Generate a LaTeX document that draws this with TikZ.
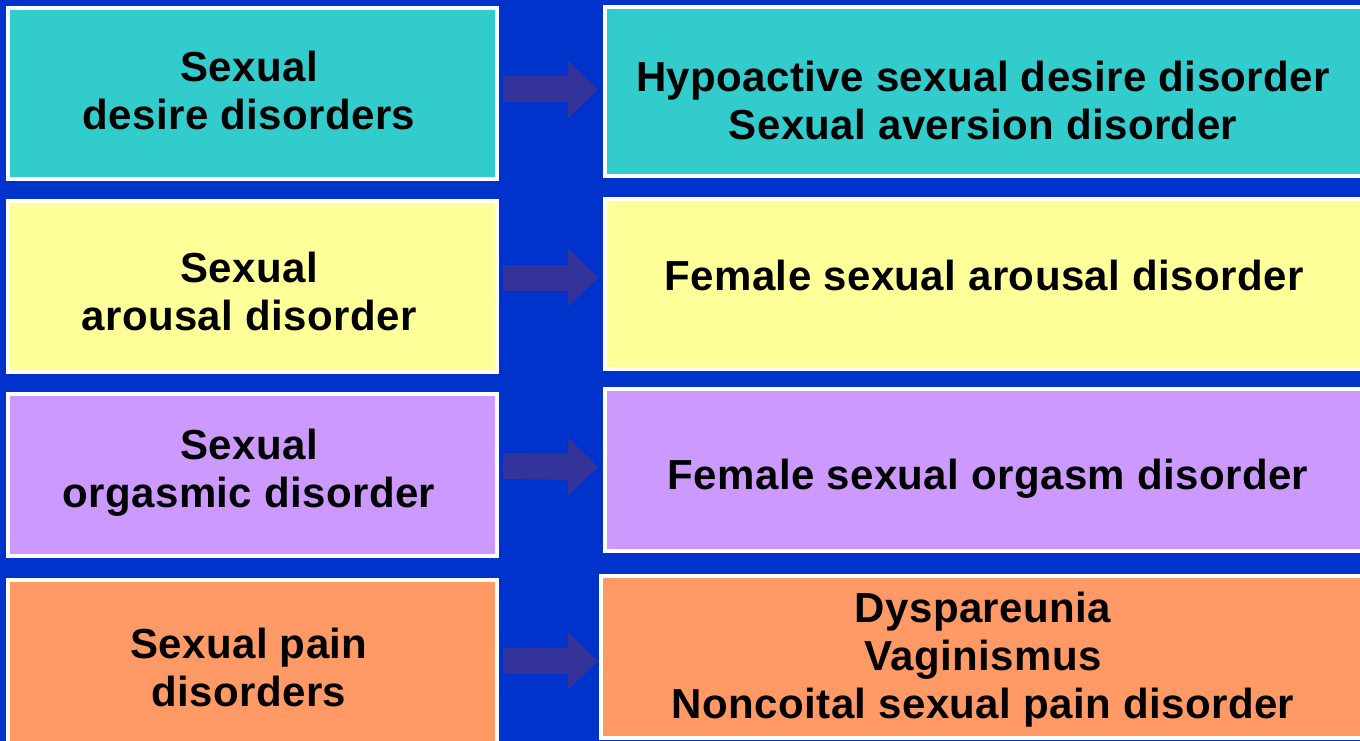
\documentclass[tikz,border=0pt]{standalone}
\usepackage{fontspec}
\setmainfont{Liberation Sans}[LetterSpace=1.0]
\usetikzlibrary{arrows.meta}
\definecolor{bg}{HTML}{0033CC}
\definecolor{teal}{HTML}{33CCCC}
\definecolor{yel}{HTML}{FFFF99}
\definecolor{lav}{HTML}{CC99FF}
\definecolor{ora}{HTML}{FF9966}
\definecolor{arr}{HTML}{333399}
\tikzset{
  box/.style={draw=white, line width=3.5pt, rectangle, inner sep=0pt, outer sep=0pt},
  lbox/.style={box, minimum width=489pt},
  rbox/.style={box, minimum width=765pt},
  lbl/.style={font=\fontsize{42}{48}\selectfont\bfseries, align=center, anchor=base, inner sep=0pt, text=black},
  bigarrow/.style={draw=arr, line width=26pt, line cap=butt, -{Triangle[length=30pt,width=56pt]}}
}
\begin{document}
\begin{tikzpicture}[x=1pt,y=-1pt]
\fill[bg] (0,0) rectangle (1360,741);
\useasboundingbox (0,0) rectangle (1360,741);
\begin{scope}
\clip (0,0) rectangle (1360,741);
% left boxes
\node[lbox, fill=teal, minimum height=171pt] (L1) at (252.5,93.5) {};
\node[lbox, fill=yel, minimum height=171pt] (L2) at (252.5,286.5) {};
\node[lbox, fill=lav, minimum height=162pt] (L3) at (252.5,475) {};
\node[lbox, fill=ora, minimum height=180pt] (L4) at (252.5,670) {};
% right boxes
\node[rbox, fill=teal, minimum height=169pt] (R1) at (987.5,91.5) {};
\node[rbox, fill=yel, minimum height=170pt] (R2) at (987.5,284) {};
\node[rbox, fill=lav, minimum height=162pt] (R3) at (987.5,470) {};
\node[box, fill=ora, minimum width=769pt, minimum height=162pt] (R4) at (985.5,657) {};
% texts (anchor = baseline of the last line)
\node[lbl] (tL1) at (249,130) {Sexual\\desire disorders};
\node[lbl] (tL2) at (249,330) {Sexual\\arousal disorder};
\node[lbl] (tL3) at (249,507) {Sexual\\orgasmic disorder};
\node[lbl] (tL4) at (249,706) {Sexual pain\\disorders};
\node[lbl] (tR1) at (983,140) {Hypoactive sexual desire disorder\\Sexual aversion disorder};
\node[lbl] (tR2) at (984,290) {Female sexual arousal disorder};
\node[lbl] (tR3) at (988,489) {Female sexual orgasm disorder};
\node[lbl] (tR4) at (983,718) {Dyspareunia\\Vaginismus\\Noncoital sexual pain disorder};
% arrows
\draw[bigarrow] ([xshift=6pt,yshift=4pt]L1.east) -- ([xshift=-7pt,yshift=2pt]R1.west);
\draw[bigarrow] ([xshift=6pt,yshift=9pt]L2.east) -- ([xshift=-7pt,yshift=6.5pt]R2.west);
\draw[bigarrow] ([xshift=6pt,yshift=9pt]L3.east) -- ([xshift=-7pt,yshift=3pt]R3.west);
\draw[bigarrow] ([xshift=6pt,yshift=9pt]L4.east) -- ([xshift=-3pt,yshift=-4pt]R4.west);
\end{scope}
\end{tikzpicture}
\end{document}
